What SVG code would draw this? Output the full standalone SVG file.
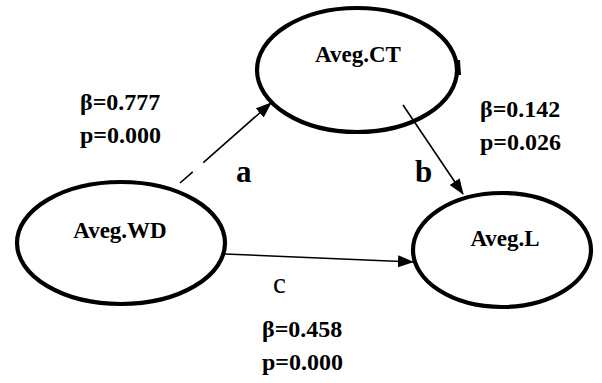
<svg xmlns="http://www.w3.org/2000/svg" width="602" height="383" viewBox="0 0 602 383">
  <style>
    .node { fill: #fff; stroke: #000; stroke-width: 4.2; }
    text { font-family: "Liberation Serif", "Times New Roman", Tinos, "DejaVu Serif", serif; fill: #000; }
    .label { font-weight: bold; }
    .nodetext { font-size: 23px; text-anchor: middle; }
    .stat { font-size: 24px; }
    .path-letter { font-size: 31px; }
    .plain { font-size: 29px; font-weight: normal; }
    .edge { stroke: #000; stroke-width: 1.6; fill: none; }
  </style>
  <defs>
    <marker id="arrow" viewBox="0 0 16 12" refX="15" refY="6" markerWidth="16" markerHeight="12" markerUnits="userSpaceOnUse" orient="auto">
      <path d="M0,0 L16,6 L0,12 Z" fill="#000"/>
    </marker>
  </defs>

  <rect width="602" height="383" fill="#fff"/>

  <g id="node-ct">
    <ellipse class="node" cx="357" cy="70" rx="100" ry="62"/>
    <!-- small jog in the outline on the right side -->
    <path d="M458.5,60 L459.5,75" stroke="#000" stroke-width="3" fill="none"/>
    <text class="label nodetext" x="358" y="62">Aveg.CT</text>
  </g>

  <g id="node-wd">
    <ellipse class="node" cx="121" cy="243" rx="104" ry="61"/>
    <text class="label nodetext" x="120" y="238">Aveg.WD</text>
  </g>

  <g id="node-l">
    <ellipse class="node" cx="502" cy="250" rx="89" ry="57"/>
    <text class="label nodetext" x="505" y="246">Aveg.L</text>
  </g>

  <g id="connectors">
    <!-- a: WD to CT, dashed at its start -->
    <path class="edge" d="M180,183 L271,103" stroke-dasharray="17 14 200" marker-end="url(#arrow)"/>
    <!-- b: CT to L -->
    <path class="edge" d="M403,105 L463,194" marker-end="url(#arrow)"/>
    <!-- c: WD to L -->
    <path class="edge" d="M225,254 L413,262" marker-end="url(#arrow)"/>
  </g>

  <g id="labels">
    <text class="label stat" x="80" y="110">β=0.777</text>
    <text class="label stat" x="80" y="143">p=0.000</text>
    <text class="label stat" x="480" y="117">β=0.142</text>
    <text class="label stat" x="480" y="150">p=0.026</text>
    <text class="label stat" x="262" y="337">β=0.458</text>
    <text class="label stat" x="262" y="370">p=0.000</text>
    <text class="label path-letter" x="236" y="182">a</text>
    <text class="label path-letter" x="415" y="182">b</text>
    <text class="plain" x="273" y="293">c</text>
  </g>
</svg>
